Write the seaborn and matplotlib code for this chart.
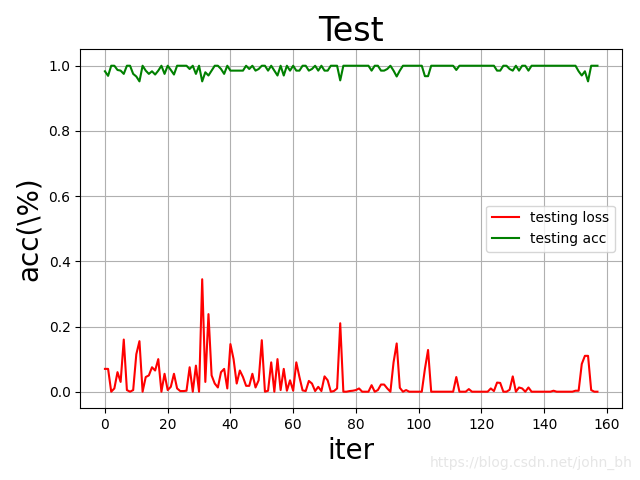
import numpy as np
import pandas as pd
import matplotlib
matplotlib.use("Agg")
import matplotlib.pyplot as plt
import seaborn as sns

loss = [
    0.07, 0.07, 0.0, 0.01, 0.06, 0.03, 0.16, 0.005, 0.0, 0.005,
    0.115, 0.155, 0.0, 0.045, 0.05, 0.075, 0.065, 0.1, 0.0, 0.055,
    0.005, 0.015, 0.055, 0.01, 0.002, 0.002, 0.003, 0.075, 0.0, 0.08,
    0.0, 0.345, 0.03, 0.238, 0.05, 0.025, 0.013, 0.06, 0.07, 0.01,
    0.146, 0.1, 0.025, 0.065, 0.045, 0.018, 0.018, 0.055, 0.013, 0.035,
    0.158, 0.0, 0.003, 0.09, 0.0, 0.1, 0.005, 0.07, 0.003, 0.035,
    0.003, 0.09, 0.045, 0.004, 0.002, 0.033, 0.025, 0.002, 0.015, 0.002,
    0.047, 0.035, 0.0, 0.002, 0.01, 0.21, 0.0, 0.0, 0.002, 0.003,
    0.005, 0.01, 0.0, 0.0, 0.0, 0.02, 0.0, 0.005, 0.022, 0.022,
    0.01, 0.0, 0.09, 0.148, 0.012, 0.0, 0.005, 0.0, 0.0, 0.0,
    0.0, 0.0, 0.07, 0.128, 0.0, 0.0, 0.0, 0.0, 0.0, 0.0,
    0.0, 0.0, 0.045, 0.0, 0.0, 0.0, 0.008, 0.0, 0.0, 0.0,
    0.0, 0.0, 0.0, 0.01, 0.002, 0.028, 0.027, 0.0, 0.0, 0.006,
    0.047, 0.0, 0.013, 0.01, 0.0, 0.013, 0.0, 0.0, 0.0, 0.0,
    0.0, 0.0, 0.0, 0.003, 0.0, 0.0, 0.0, 0.0, 0.0, 0.0,
    0.003, 0.003, 0.085, 0.11, 0.11, 0.005, 0.0, 0.0,
]

acc = [
    0.983, 0.969, 1.0, 1.0, 0.987, 0.985, 0.975, 1.0, 1.0, 0.975,
    0.967, 0.952, 1.0, 0.985, 0.975, 0.983, 0.973, 0.985, 1.0, 0.975,
    1.0, 0.987, 0.973, 1.0, 1.0, 1.0, 1.0, 0.99, 1.0, 0.975,
    1.0, 0.952, 0.98, 0.97, 0.985, 1.0, 1.0, 0.99, 0.975, 1.0,
    0.985, 0.985, 0.985, 0.985, 0.985, 1.0, 0.99, 1.0, 0.985, 0.99,
    1.0, 1.0, 0.985, 1.0, 0.985, 0.97, 1.0, 0.97, 1.0, 0.985,
    1.0, 0.985, 0.985, 1.0, 1.0, 0.985, 0.99, 1.0, 0.985, 1.0,
    0.985, 0.985, 1.0, 1.0, 1.0, 0.955, 1.0, 1.0, 1.0, 1.0,
    1.0, 1.0, 1.0, 1.0, 1.0, 0.985, 1.0, 1.0, 0.985, 0.985,
    0.99, 1.0, 0.985, 0.967, 0.985, 1.0, 1.0, 1.0, 1.0, 1.0,
    1.0, 1.0, 0.968, 0.968, 1.0, 1.0, 1.0, 1.0, 1.0, 1.0,
    1.0, 1.0, 0.987, 1.0, 1.0, 1.0, 1.0, 1.0, 1.0, 1.0,
    1.0, 1.0, 1.0, 1.0, 1.0, 0.985, 0.985, 1.0, 1.0, 0.99,
    0.985, 1.0, 0.985, 1.0, 1.0, 0.985, 1.0, 1.0, 1.0, 1.0,
    1.0, 1.0, 1.0, 1.0, 1.0, 1.0, 1.0, 1.0, 1.0, 1.0,
    1.0, 0.983, 0.97, 0.983, 0.952, 1.0, 1.0, 1.0,
]

iters = list(range(len(loss)))

df = pd.DataFrame({"iter": iters, "loss": loss, "acc": acc})

fig, ax = plt.subplots(figsize=(6.4, 4.8), dpi=100)
sns.lineplot(data=df, x="iter", y="loss", color="red", label="testing loss",
             linewidth=1.5, ax=ax)
sns.lineplot(data=df, x="iter", y="acc", color="green", label="testing acc",
             linewidth=1.5, ax=ax)

ax.grid(True, color="#b0b0b0", linewidth=0.8)
ax.set_axisbelow(True)
ax.set_title("Test", fontsize=24)
ax.set_xlabel("iter", fontsize=20)
ax.set_ylabel("acc(\\%)", fontsize=20)
ax.set_xticks(range(0, 161, 20))
ax.legend(loc="center right")

fig.subplots_adjust(left=0.1255, right=0.972, top=0.897, bottom=0.15)
fig.text(0.988, 0.035, "https://blog.csdn.net/john_bh", ha="right", va="center",
         color="#e6e6e6", fontsize=10)
fig.savefig("out.png", dpi=100)
